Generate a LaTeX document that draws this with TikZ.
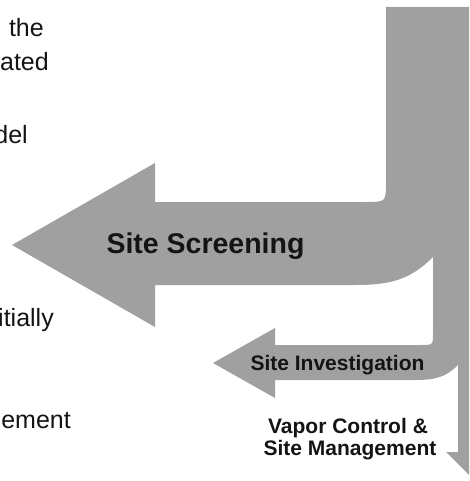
\documentclass[tikz,border=0pt]{standalone}
\usepackage{fontspec}
\setmainfont{Liberation Sans}
\definecolor{arrowgray}{RGB}{160,160,160}
\definecolor{inktext}{RGB}{20,20,20}
\begin{document}
\begin{tikzpicture}[x=1pt,y=-1pt,
  sidetext/.style={font=\fontsize{25}{29}\selectfont, text=inktext, anchor=base east, inner sep=0pt},
  bigtext/.style={font=\bfseries\fontsize{28.5}{32}\selectfont, text=inktext, anchor=base, inner sep=0pt},
  smalltext/.style={font=\bfseries\fontsize{21}{22}\selectfont, text=inktext, anchor=base, inner sep=0pt}]
\useasboundingbox (0,0) rectangle (469,481);
\clip (0,0) rectangle (469,481);
\fill[arrowgray] (386,7) -- (520,7) -- (520,452) -- (498,452) -- (472,478) -- (446,452) -- (458,452)
  -- (458,365) .. controls (446,377) and (436,380) .. (415,380)
  -- (275,380) -- (275,398) -- (213,363) -- (275,328) -- (275,345)
  -- (421,345) .. controls (433,345) .. (433,333)
  -- (433,257) .. controls (410,280) and (390,285) .. (355,285)
  -- (155,285) -- (155,327) -- (12,245) -- (155,163) -- (155,202)
  -- (366,202) .. controls (386,202) .. (386,182) -- cycle;
\node[bigtext] (screen) at (205.5,253) {Site Screening};
\node[smalltext] (invest) at (337.5,370) {Site Investigation};
\node[smalltext] (vapor) at (348,433) {Vapor Control \&};
\node[smalltext] (manage) at (350,455) {Site Management};
\node[sidetext] (t1) at (44,37) {the};
\node[sidetext] (t2) at (49,71) {ated};
\node[sidetext] (t3) at (28,144) {del};
\node[sidetext] (t4) at (54,326) {itially};
\node[sidetext] (t5) at (71,428) {ement};
\end{tikzpicture}
\end{document}
